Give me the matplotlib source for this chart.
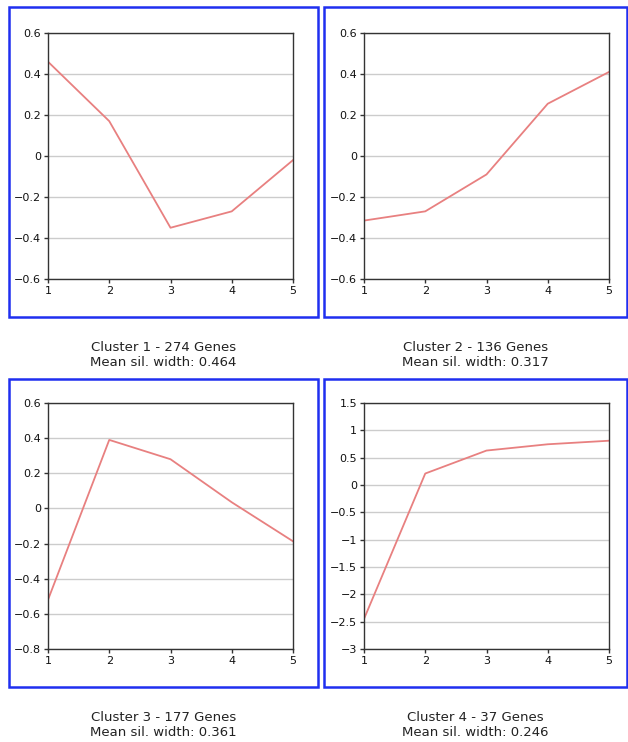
import matplotlib
matplotlib.use("Agg")
import matplotlib.pyplot as plt
from matplotlib.patches import Rectangle

W, H = 628, 742

x_vals = [1, 2, 3, 4, 5]
cluster1 = [0.46, 0.17, -0.35, -0.27, -0.02]
cluster2 = [-0.315, -0.27, -0.09, 0.255, 0.41]
cluster3 = [-0.52, 0.39, 0.28, 0.035, -0.187]
cluster4 = [-2.45, 0.21, 0.63, 0.745, 0.81]

titles = ["Cluster 1 - 274 Genes\nMean sil. width: 0.464",
          "Cluster 2 - 136 Genes\nMean sil. width: 0.317",
          "Cluster 3 - 177 Genes\nMean sil. width: 0.361",
          "Cluster 4 - 37 Genes\nMean sil. width: 0.246"]

yticks1 = [-0.6, -0.4, -0.2, 0, 0.2, 0.4, 0.6]
yticks2 = [-0.6, -0.4, -0.2, 0, 0.2, 0.4, 0.6]
yticks3 = [-0.8, -0.6, -0.4, -0.2, 0, 0.2, 0.4, 0.6]
yticks4 = [-3, -2.5, -2, -1.5, -1, -0.5, 0, 0.5, 1, 1.5]

series = [cluster1, cluster2, cluster3, cluster4]
ticks = [yticks1, yticks2, yticks3, yticks4]

fig = plt.figure(figsize=(W / 100, H / 100), dpi=100)

axes_px = [(48, 33, 293, 279), (364, 33, 609, 279), (48, 403, 293, 649), (364, 403, 609, 649)]
frames_px = [(9, 7, 318, 317), (324, 7, 627, 317), (9, 379, 318, 687), (324, 379, 627, 687)]
title_y = [355, 355, 725, 725]

def fmt(v):
    s = ("%g" % v)
    return s.replace("-", "\u2212")

for i in range(4):
    l, t, r, b = axes_px[i]
    ax = fig.add_axes([l / W, 1 - b / H, (r - l) / W, (b - t) / H])
    ax.plot(x_vals, series[i], color="#e88080", lw=1.3)
    yt = ticks[i]
    ax.set_ylim(yt[0], yt[-1])
    ax.set_xlim(1, 5)
    ax.set_xticks(x_vals)
    ax.set_yticks(yt)
    ax.set_yticklabels([fmt(v) for v in yt])
    ax.yaxis.grid(True, color="#cccccc", lw=1)
    ax.set_axisbelow(True)
    for sp in ax.spines.values():
        sp.set_color("#333333")
        sp.set_linewidth(1)
    ax.tick_params(axis="both", direction="out", length=3, width=1, color="#333333",
                   labelsize=8, pad=2, labelcolor="#111111")
    fl, ft, fr, fb = frames_px[i]
    rect = Rectangle((fl / W, 1 - fb / H), (fr - fl) / W, (fb - ft) / H,
                     transform=fig.transFigure, fill=False, edgecolor="#1f2ff0", lw=1.8)
    fig.patches.append(rect)
    cx = (fl + fr) / 2 / W
    fig.text(cx, 1 - title_y[i] / H, titles[i], ha="center", va="center",
             fontsize=9.5, color="#222222", linespacing=1.25, family="DejaVu Sans")

fig.savefig("out.png", dpi=100, facecolor="white")
